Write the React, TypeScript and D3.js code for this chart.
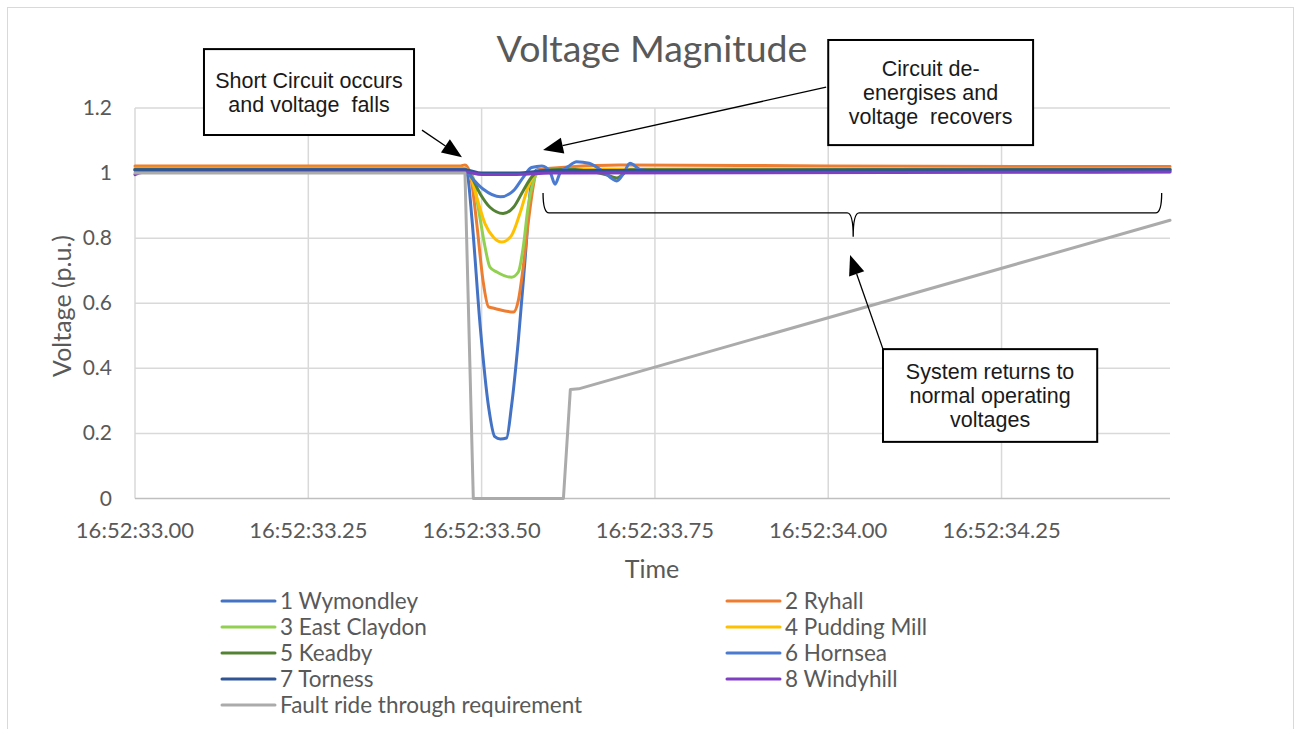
import React from 'react';
import * as d3 from 'd3';

// time in seconds after 16:52:33.00, voltage in p.u.
const tickTimes = [0, 0.25, 0.5, 0.75, 1.0, 1.25];
const tickLabels = ['16:52:33.00', '16:52:33.25', '16:52:33.50', '16:52:33.75', '16:52:34.00', '16:52:34.25'];
const yTicks = [0, 0.2, 0.4, 0.6, 0.8, 1, 1.2];

const wymondley: [number, number][] = [
  [0, 1.01], [0.476, 1.012], [0.48, 0.99], [0.486, 0.86], [0.498, 0.528], [0.51, 0.282],
  [0.519, 0.19], [0.527, 0.183], [0.536, 0.186], [0.543, 0.282], [0.553, 0.487], [0.563, 0.743],
  [0.572, 0.975], [0.58, 1.01], [0.65, 1.01], [1.0, 1.008], [1.493, 1.008],
];
const ryhall: [number, number][] = [
  [0, 1.022], [0.47, 1.022], [0.476, 1.025], [0.483, 1.002], [0.493, 0.844], [0.502, 0.67],
  [0.51, 0.589], [0.519, 0.584], [0.546, 0.573], [0.553, 0.609], [0.56, 0.711], [0.567, 0.844],
  [0.575, 0.966], [0.579, 1.007], [0.6, 1.015], [0.7, 1.025], [1.0, 1.022], [1.493, 1.02],
];
const eastClaydon: [number, number][] = [
  [0, 1.012], [0.476, 1.012], [0.486, 0.997], [0.495, 0.895], [0.505, 0.772], [0.512, 0.711],
  [0.522, 0.696], [0.543, 0.68], [0.553, 0.696], [0.56, 0.772], [0.567, 0.895], [0.575, 0.976],
  [0.582, 1.002], [0.62, 1.01], [1.493, 1.012],
];
const puddingMill: [number, number][] = [
  [0, 1.015], [0.476, 1.015], [0.483, 0.997], [0.493, 0.925], [0.505, 0.844], [0.517, 0.803],
  [0.529, 0.788], [0.543, 0.808], [0.555, 0.874], [0.567, 0.956], [0.579, 1.002], [0.62, 1.012],
  [1.493, 1.014],
];
const keadby: [number, number][] = [
  [0, 1.012], [0.476, 1.012], [0.483, 0.997], [0.498, 0.936], [0.512, 0.895], [0.531, 0.876],
  [0.546, 0.895], [0.56, 0.946], [0.572, 0.987], [0.584, 1.007], [0.62, 1.012], [0.68, 0.995],
  [0.695, 0.985], [0.714, 1.01], [1.493, 1.012],
];
const hornsea: [number, number][] = [
  [0, 1.008], [0.476, 1.01], [0.48, 1.0], [0.502, 0.951], [0.527, 0.927], [0.546, 0.946],
  [0.56, 0.987], [0.572, 1.017], [0.587, 1.022], [0.599, 1.002], [0.606, 0.966], [0.613, 1.0],
  [0.625, 1.02], [0.637, 1.035], [0.655, 1.03], [0.675, 1.005], [0.695, 0.976], [0.705, 1.0],
  [0.714, 1.03], [0.73, 1.01], [0.76, 1.005], [1.493, 1.005],
];
const torness: [number, number][] = [
  [0, 1.01], [0.476, 1.01], [0.5, 1.0], [0.55, 1.0], [0.6, 1.008], [1.493, 1.01],
];
const windyhill: [number, number][] = [
  [0, 0.995], [0.01, 1.002], [0.476, 1.003], [0.5, 0.996], [0.55, 0.996], [0.6, 1.0], [1.493, 1.003],
];
const faultRideThrough: [number, number][] = [
  [0, 1.0], [0.476, 1.0], [0.488, 0], [0.618, 0], [0.628, 0.335], [0.64, 0.337], [1.493, 0.855],
];

const series = [
  { name: '1 Wymondley', color: '#4472C4', values: wymondley },
  { name: '2 Ryhall', color: '#ED7D31', values: ryhall },
  { name: '3 East Claydon', color: '#92D050', values: eastClaydon },
  { name: '4 Pudding Mill', color: '#FFC000', values: puddingMill },
  { name: '5 Keadby', color: '#548235', values: keadby },
  { name: '6 Hornsea', color: '#4A7BD0', values: hornsea },
  { name: '7 Torness', color: '#2F5597', values: torness },
  { name: '8 Windyhill', color: '#7E3FC2', values: windyhill },
  { name: 'Fault ride through requirement', color: '#ABABAB', values: faultRideThrough },
];

const legendOrder = [0, 2, 4, 6, 8, 1, 3, 5, 7];

const W = 1302;
const H = 729;
const margin = { top: 108, right: 132, bottom: 230.5, left: 135 };
const font = 'Lato, "Open Sans", sans-serif';
const boxFont = '"Liberation Sans", Arial, sans-serif';

export default function App() {
  const x = d3.scaleLinear().domain([0, 1.493]).range([margin.left, W - margin.right]);
  const y = d3.scaleLinear().domain([0, 1.2]).range([H - margin.bottom, margin.top]);
  const line = d3.line<[number, number]>().x(d => x(d[0])).y(d => y(d[1])).curve(d3.curveMonotoneX);
  const straight = d3.line<[number, number]>().x(d => x(d[0])).y(d => y(d[1]));

  // annotations, in data coordinates
  const box1 = { t0: 0.0995, t1: 0.4025, v0: 1.381, v1: 1.117, lines: ['Short Circuit occurs', 'and voltage  falls'] };
  const box2 = { t0: 1.0, t1: 1.2955, v0: 1.409, v1: 1.086, lines: ['Circuit de-', 'energises and', 'voltage  recovers'] };
  const box3 = { t0: 1.079, t1: 1.388, v0: 0.459, v1: 0.174, lines: ['System returns to', 'normal operating', 'voltages'] };
  const arrows = [
    { from: [0.414, 1.132], to: [0.4717, 1.049] },
    { from: [0.997, 1.264], to: [0.5886, 1.071] },
    { from: [1.079, 0.459], to: [1.0315, 0.748] },
  ];

  const brace = () => {
    const l = x(0.5886), r = x(1.481), m = x(1.036);
    const top = y(0.939), mid = y(0.878), tip = y(0.8045);
    return `M${l},${top} Q${l},${mid} ${l + 6},${mid} L${m - 6},${mid} Q${m},${mid} ${m},${tip}` +
      ` M${m},${tip} Q${m},${mid} ${m + 6},${mid} L${r - 6},${mid} Q${r},${mid} ${r},${top}`;
  };

  const renderBox = (b: typeof box1, key: string) => {
    const bx = x(b.t0), bw = x(b.t1) - x(b.t0);
    const by = y(b.v0), bh = y(b.v1) - y(b.v0);
    const cy = by + bh / 2;
    const lh = 24;
    return (
      <g key={key}>
        <rect x={bx} y={by} width={bw} height={bh} fill="#fff" stroke="#000" strokeWidth={2} />
        {b.lines.map((s, i) => (
          <text key={i} x={bx + bw / 2} y={cy + (i - (b.lines.length - 1) / 2) * lh + 7.5}
            textAnchor="middle" fontFamily={boxFont} fontSize={21.5} fill="#1a1a1a"
            style={{ whiteSpace: 'pre' }}>{s}</text>
        ))}
      </g>
    );
  };

  const arrowHead = (from: number[], to: number[], key: string) => {
    const x1 = x(from[0]), y1 = y(from[1]), x2 = x(to[0]), y2 = y(to[1]);
    const a = Math.atan2(y2 - y1, x2 - x1);
    const len = 20, half = 8;
    const bxp = x2 - len * Math.cos(a), byp = y2 - len * Math.sin(a);
    const p1 = [bxp + half * Math.sin(a), byp - half * Math.cos(a)];
    const p2 = [bxp - half * Math.sin(a), byp + half * Math.cos(a)];
    return (
      <g key={key}>
        <line x1={x1} y1={y1} x2={bxp} y2={byp} stroke="#000" strokeWidth={1.3} />
        <polygon points={`${x2},${y2} ${p1[0]},${p1[1]} ${p2[0]},${p2[1]}`} fill="#000" />
      </g>
    );
  };

  return (
    <svg width={W} height={H} style={{ position: 'absolute', left: 0, top: 0, background: '#fff' }}>
      <rect x={7.5} y={7.5} width={1286} height={730} fill="#fff" stroke="#D9D9D9" strokeWidth={1} />

      <text x={652} y={62} textAnchor="middle" fontFamily={font} fontSize={37.5} fill="#595959">Voltage Magnitude</text>

      {/* grid */}
      {yTicks.filter(v => v > 0).map(v => (
        <line key={'gy' + v} x1={x(0)} x2={x(1.493)} y1={y(v)} y2={y(v)} stroke="#D9D9D9" strokeWidth={1.5} />
      ))}
      {tickTimes.map(t => (
        <line key={'gx' + t} x1={x(t)} x2={x(t)} y1={y(0)} y2={y(1.2)} stroke="#D9D9D9" strokeWidth={1.5} />
      ))}
      <line x1={x(0)} x2={x(1.493)} y1={y(0)} y2={y(0)} stroke="#BFBFBF" strokeWidth={1.5} />

      {/* tick labels */}
      {yTicks.map(v => (
        <text key={'ty' + v} x={112} y={y(v) + 7} textAnchor="end" fontFamily={font} fontSize={21} fill="#595959">{d3.format('~g')(v)}</text>
      ))}
      {tickTimes.map((t, i) => (
        <text key={'tx' + t} x={x(t)} y={538} textAnchor="middle" fontFamily={font} fontSize={22} fill="#595959">{tickLabels[i]}</text>
      ))}

      <text x={652} y={578} textAnchor="middle" fontFamily={font} fontSize={25} fill="#595959">Time</text>
      <text transform={`translate(71,306) rotate(-90)`} textAnchor="middle" fontFamily={font} fontSize={25} fill="#595959">Voltage (p.u.)</text>

      {/* series */}
      {series.map((s, i) => (
        <path key={s.name} d={(i === 8 ? straight : line)(s.values) || ''} fill="none" stroke={s.color}
          strokeWidth={3} strokeLinejoin="round" strokeLinecap="round" />
      ))}

      {/* annotations */}
      {renderBox(box1, 'b1')}
      {renderBox(box2, 'b2')}
      {renderBox(box3, 'b3')}
      {arrows.map((a, i) => arrowHead(a.from, a.to, 'a' + i))}
      <path d={brace()} fill="none" stroke="#000" strokeWidth={1.3} />

      {/* legend */}
      {legendOrder.map((si, k) => {
        const col = k < 5 ? 0 : 1;
        const row = k < 5 ? k : k - 5;
        const lx = col === 0 ? 222 : 727;
        const ly = 601 + row * 26;
        const s = series[si];
        return (
          <g key={'lg' + si}>
            <line x1={lx} x2={lx + 53} y1={ly} y2={ly} stroke={s.color} strokeWidth={3} strokeLinecap="round" />
            <text x={lx + 58} y={ly + 7.5} fontFamily={font} fontSize={22.5} fill="#595959">{s.name}</text>
          </g>
        );
      })}
    </svg>
  );
}
